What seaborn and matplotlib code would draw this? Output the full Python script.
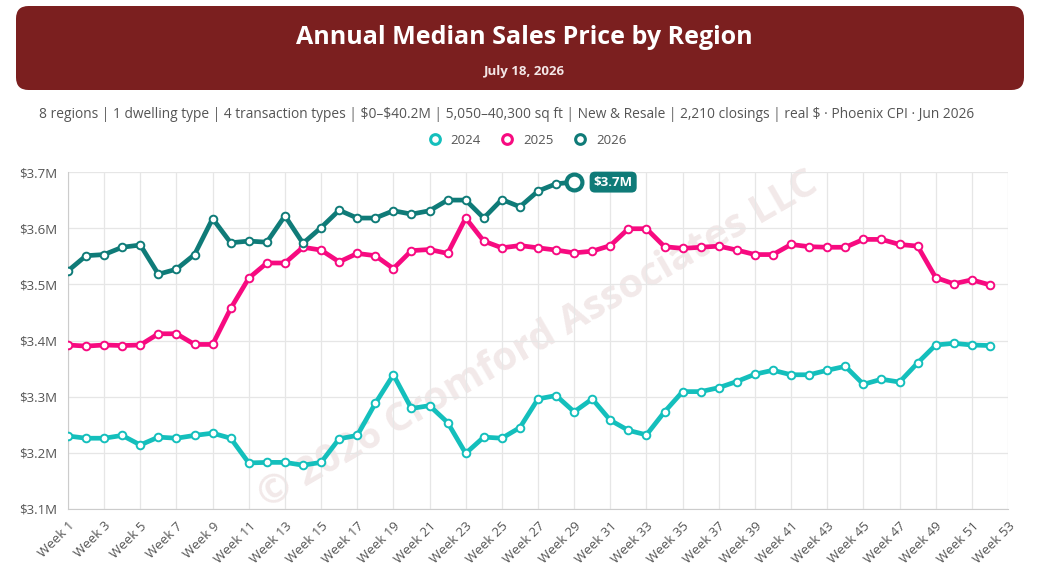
import numpy as np
import pandas as pd
import matplotlib
matplotlib.use('Agg')
import matplotlib.pyplot as plt
import seaborn as sns
from matplotlib.patches import FancyBboxPatch
from matplotlib.lines import Line2D

# ---------------- data (median price, $M) ----------------
weeks_2024 = list(range(1, 53))
price_2024 = [3.230, 3.226, 3.226, 3.231, 3.214, 3.228, 3.226, 3.231, 3.235, 3.226,
              3.182, 3.183, 3.183, 3.178, 3.183, 3.225, 3.231, 3.288, 3.339, 3.279,
              3.284, 3.254, 3.199, 3.228, 3.226, 3.245, 3.296, 3.302, 3.273, 3.296,
              3.258, 3.240, 3.232, 3.273, 3.309, 3.309, 3.316, 3.327, 3.340, 3.347,
              3.339, 3.339, 3.347, 3.354, 3.322, 3.331, 3.326, 3.360, 3.392, 3.395,
              3.392, 3.391]

weeks_2025 = list(range(1, 53))
price_2025 = [3.392, 3.390, 3.392, 3.391, 3.392, 3.412, 3.412, 3.393, 3.393, 3.457,
              3.511, 3.538, 3.538, 3.566, 3.561, 3.540, 3.555, 3.551, 3.528, 3.560,
              3.562, 3.555, 3.618, 3.577, 3.565, 3.569, 3.565, 3.561, 3.556, 3.559,
              3.569, 3.599, 3.599, 3.567, 3.564, 3.566, 3.568, 3.561, 3.553, 3.553,
              3.571, 3.567, 3.566, 3.566, 3.580, 3.580, 3.571, 3.568, 3.512, 3.501,
              3.508, 3.499]

weeks_2026 = list(range(1, 30))
price_2026 = [3.524, 3.551, 3.553, 3.566, 3.570, 3.518, 3.527, 3.553, 3.617, 3.574,
              3.577, 3.575, 3.622, 3.573, 3.601, 3.632, 3.618, 3.618, 3.631, 3.625,
              3.631, 3.650, 3.650, 3.618, 3.651, 3.638, 3.666, 3.679, 3.682]

years = ['2024', '2025', '2026']
colors = ['#14BFBC', '#F70A80', '#0F7B78']

y_ticks = [3.1, 3.2, 3.3, 3.4, 3.5, 3.6, 3.7]
x_ticks = list(range(1, 54, 2))

df = pd.concat([
    pd.DataFrame({'week': weeks_2024, 'price': price_2024, 'year': '2024'}),
    pd.DataFrame({'week': weeks_2025, 'price': price_2025, 'year': '2025'}),
    pd.DataFrame({'week': weeks_2026, 'price': price_2026, 'year': '2026'}),
])

# ---------------- figure ----------------
sns.set_style('white')
plt.rcParams['font.family'] = ['Open Sans', 'DejaVu Sans']

fig = plt.figure(figsize=(10.48, 5.74), dpi=100)
W, H = 1048, 574

# header banner
banner = FancyBboxPatch((16 / W, 1 - 90 / H), 1008 / W, 84 / H,
                        boxstyle='round,pad=0,rounding_size=0.012',
                        transform=fig.transFigure, facecolor='#7B1F1F',
                        edgecolor='none', mutation_aspect=W / H)
fig.patches.append(banner)
fig.text(0.5, 1 - 37 / H, 'Annual Median Sales Price by Region', ha='center', va='center',
         color='white', fontsize=18, fontweight='bold')
fig.text(0.5, 1 - 72 / H, 'July 18, 2026', ha='center', va='center',
         color='#f3e6e6', fontsize=9.5, fontweight='bold')

fig.text(507 / W, 1 - 114 / H,
         '8 regions | 1 dwelling type | 4 transaction types | $0\u2013$40.2M | 5,050\u201340,300 sq ft | '
         'New & Resale | 2,210 closings | real $ \u00b7 Phoenix CPI \u00b7 Jun 2026',
         ha='center', va='center', color='#555555', fontsize=9.9)

ax = fig.add_axes([68 / W, 1 - 509 / H, 940 / W, 337 / H])

# watermark
ax.text(0.5, 0.5, '\u00a9 2026 Cromford Associates LLC', transform=ax.transAxes,
        ha='center', va='center', rotation=30, fontsize=29, fontweight='bold',
        color='#7B1F1F', alpha=0.1, zorder=0)

for yr, c in zip(years, colors):
    sub = df[df['year'] == yr]
    sns.lineplot(data=sub, x='week', y='price', ax=ax, color=c, linewidth=3.4,
                 marker='o', markersize=5.5, markerfacecolor='white',
                 markeredgecolor=c, markeredgewidth=1.4, zorder=3, legend=False)

# highlight last 2026 point
last_w, last_p = weeks_2026[-1], price_2026[-1]
ax.scatter([last_w], [last_p], s=130, facecolor='white', edgecolor=colors[2],
           linewidth=3, zorder=5)
ax.annotate(f'${last_p:.1f}M', (last_w, last_p), xytext=(14, 0), textcoords='offset points',
            ha='left', va='center', color='white', fontsize=9.5, fontweight='bold',
            bbox=dict(boxstyle='round,pad=0.3,rounding_size=0.4', fc=colors[2], ec='none'),
            zorder=6)

ax.set_xlim(1, 53)
ax.set_ylim(3.1, 3.7)
ax.set_xticks(x_ticks)
ax.set_xticklabels([f'Week {w}' for w in x_ticks], rotation=45, ha='right',
                   rotation_mode='anchor', fontsize=9.5, color='#555555')
ax.set_yticks(y_ticks)
ax.set_yticklabels([f'${v:.1f}M' for v in y_ticks], fontsize=9.5, color='#555555')
ax.set_xlabel('')
ax.set_ylabel('')
ax.grid(True, color='#e6e6e6', linewidth=0.9)
ax.tick_params(axis='both', length=4, color='#cccccc')
for s in ['top', 'right']:
    ax.spines[s].set_visible(False)
for s in ['left', 'bottom']:
    ax.spines[s].set_color('#cccccc')

handles = [Line2D([], [], linestyle='none', marker='o', markersize=7, markerfacecolor='white',
                  markeredgecolor=c, markeredgewidth=2.2) for c in colors]
fig.legend(handles, years, loc='center', bbox_to_anchor=(0.5, 1 - 140 / H), ncol=3,
           frameon=False, fontsize=9.5, handletextpad=0.2, columnspacing=1.0,
           labelcolor='#555555')

fig.savefig('out.png', dpi=100)
